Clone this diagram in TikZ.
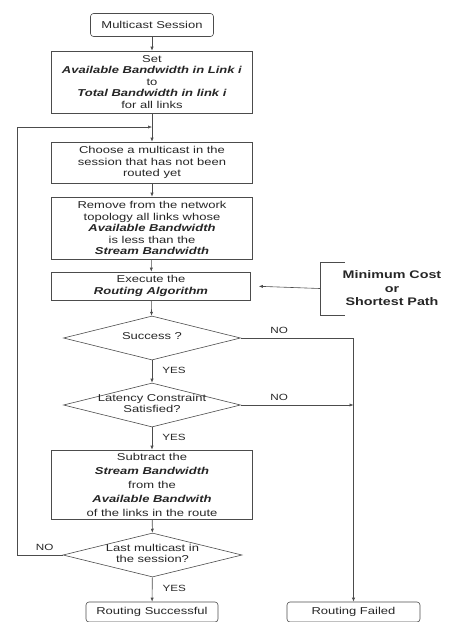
\documentclass[tikz,border=0pt]{standalone}
\usepackage{fontspec}
\setmainfont{Liberation Sans}[FakeStretch=1.3]
\usetikzlibrary{shapes.geometric,arrows.meta}

\tikzset{
  line/.style={draw=black!70, line width=0.6pt},
  arrow/.style={line, -{Latex[length=4pt,width=3.2pt]}},
  box/.style={line, rectangle, minimum width=201pt, inner sep=0pt,
    align=center, text=black!85, font=\fontsize{10}{11.5}\selectfont},
  terminal/.style={box, rounded corners=3pt, minimum height=20pt},
  decision/.style={line, diamond, minimum width=177pt, minimum height=44pt,
    inner sep=0pt, text=black!85, font=\fontsize{10}{11.5}\selectfont},
  lbl/.style={text=black!85, font=\fontsize{9}{10}\selectfont, inner sep=0pt},
}
\newcommand{\term}[1]{\textbf{\textit{#1}}}
% text that may overhang the diamond outline
\newcommand{\dtext}[1]{\makebox[0pt]{\smash{\raisebox{-2pt}{\begin{tabular}{@{}c@{}}#1\end{tabular}}}}}

\begin{document}
\begin{tikzpicture}[x=1pt, y=-1pt]
    % --- Page size ---
    \useasboundingbox (0,0) rectangle (452,622);

    % --- Main column ---
    \node[terminal, minimum width=123pt, minimum height=23pt] (sess) at (152,25) {Multicast Session};
    \node[box, minimum height=62pt] (setbw) at (152,82)
        {Set\\ \term{Available Bandwidth in Link i}\\ to\\ \term{Total Bandwidth in link i}\\ for all links};
    \coordinate (loop) at (152,127);
    \node[box, minimum height=41pt] (choose) at (152,162.5)
        {Choose a multicast in the\\ session that has not been\\ routed yet};
    \node[box, minimum height=62pt] (remove) at (152,228)
        {Remove from the network\\ topology all links whose\\ \term{Available Bandwidth}\\ is less than the\\ \term{Stream Bandwidth}};
    \node[box, minimum width=199pt, minimum height=28pt] (exec) at (151,286)
        {Execute the\\ \term{Routing Algorithm}};

    % --- Algorithm choice (bracket) ---
    \node[align=center, minimum width=144pt, minimum height=53pt, inner sep=0pt,
          text=black!85, font=\fontsize{11}{13.5}\selectfont\bfseries] (algo) at (392,288.5)
        {Minimum Cost\\ or\\ Shortest Path};
    \draw[line] ([xshift=25pt]algo.north west) -- (algo.north west)
        -- (algo.south west) -- ([xshift=25pt]algo.south west);

    % --- Decisions ---
    \node[decision] (succ) at (152,338) {\dtext{Success ?}};
    \node[decision] (lat) at (152,405) {\dtext{Latency Constraint\\ Satisfied?}};
    \node[box, minimum height=69pt, font=\fontsize{10}{14}\selectfont] (sub) at (152,484.5)
        {Subtract the\\ \term{Stream Bandwidth}\\ from the\\ \term{Available Bandwith}\\ of the links in the route};
    \node[decision, minimum width=179pt] (last) at (152.5,555) {\dtext{Last multicast in\\ the session?}};

    % --- End states ---
    \node[terminal, minimum width=132pt] (ok) at (152,612) {Routing Successful};
    \node[terminal, minimum width=133pt] (fail) at (353.5,612) {Routing Failed};

    % --- Connectors ---
    \draw[arrow] (sess) -- (setbw);
    \draw[arrow] (setbw) -- (choose);
    \draw[arrow] (choose) -- (remove);
    \draw[arrow] (remove) -- (exec);
    \draw[arrow, shorten >=8pt] (algo.west) -- (exec.east);
    \draw[arrow] (exec) -- (succ);
    \draw[arrow] (succ) -- node[lbl, right=10pt, pos=0.45] {YES} (lat);
    \draw[arrow] (lat) -- node[lbl, right=10pt, pos=0.45] {YES} (sub);
    \draw[arrow] (sub) -- (last);
    \draw[arrow] (last) -- node[lbl, right=10pt, pos=0.45] {YES} (ok);
    \draw[arrow] (succ.east) -| node[lbl, above=4pt, pos=0.17] {NO} (fail.north);
    \draw[arrow] (lat.east) -- node[lbl, above=4pt, pos=0.34] {NO} (lat.east -| fail.north);
    \draw[arrow] (last.west) -- node[lbl, above=4pt, pos=0.4] {NO} ++(-45,0) |- (loop);

\end{tikzpicture}
\end{document}
